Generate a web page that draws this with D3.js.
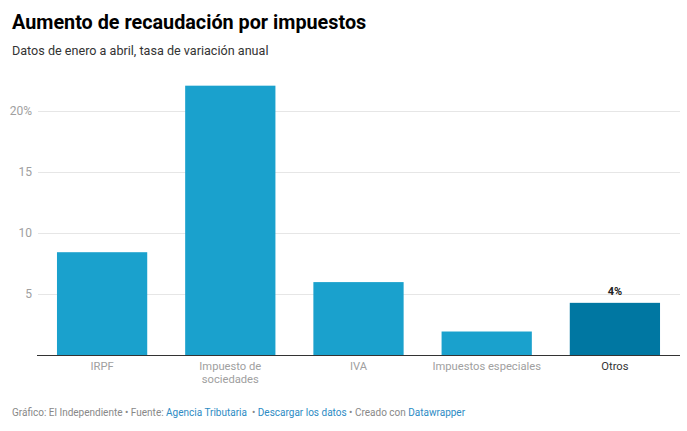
<!DOCTYPE html>
<html><head><meta charset="utf-8">
<script src="https://cdn.jsdelivr.net/npm/d3@7"></script>
<style>
body{margin:0;background:#fff;font-family:Roboto,"Noto Sans",sans-serif;}
svg text{font-family:Roboto,"Noto Sans",sans-serif;}
</style></head>
<body><svg id="c" width="687" height="431"></svg>
<script>
const categories = ["IRPF", "Impuesto de\nsociedades", "IVA", "Impuestos especiales", "Otros"];
const values = [8.45, 22.1, 6.0, 1.95, 4.3];
const highlight = [false, false, false, false, true];
const yTicks = [5, 10, 15, 20];
const yTickLabels = ["5", "10", "15", "20%"];
const valueLabels = ["", "", "", "", "4%"];

const svg = d3.select("#c");
svg.append("rect").attr("width",687).attr("height",431).attr("fill","#fff");

svg.append("text").attr("x",12).attr("y",29).attr("font-size",19.8).attr("font-weight",700)
  .attr("fill","#000").text("Aumento de recaudación por impuestos");
svg.append("text").attr("x",12).attr("y",55).attr("font-size",12.6).attr("fill","#333")
  .text("Datos de enero a abril, tasa de variación anual");

const x = d3.scaleBand().domain(categories).range([38, 679]).paddingInner(0.296).paddingOuter(0.148);
const y = d3.scaleLinear().domain([0, 20]).range([355.3, 111.3]);

const g = svg.append("g");
g.selectAll("line.grid").data(yTicks).join("line")
  .attr("x1",38).attr("x2",680).attr("y1",d=>Math.round(y(d))+0.5).attr("y2",d=>Math.round(y(d))+0.5)
  .attr("stroke","#e6e6e6").attr("stroke-width",1);
g.selectAll("text.yl").data(yTicks).join("text")
  .attr("x",32).attr("y",d=>y(d)+4).attr("text-anchor","end").attr("font-size",12)
  .attr("fill","#a0a0a0").text((d,i)=>yTickLabels[i]);

g.selectAll("rect.bar").data(values).join("rect")
  .attr("x",(d,i)=>x(categories[i])).attr("width",x.bandwidth())
  .attr("y",d=>y(d)).attr("height",d=>y(0)-y(d))
  .attr("fill",(d,i)=>highlight[i] ? "#0077a2" : "#1aa1cd");

g.selectAll("text.vl").data(values).join("text")
  .attr("x",(d,i)=>x(categories[i])+x.bandwidth()/2).attr("y",d=>y(d)-8)
  .attr("text-anchor","middle").attr("font-size",11).attr("font-weight",700).attr("fill","#222")
  .text((d,i)=>valueLabels[i]);

g.append("line").attr("x1",37).attr("x2",680).attr("y1",355.5).attr("y2",355.5)
  .attr("stroke","#333").attr("stroke-width",1);

categories.forEach((c,i)=>{
  const t = g.append("text").attr("x",x(c)+x.bandwidth()/2).attr("y",370)
    .attr("text-anchor","middle").attr("font-size",11.2)
    .attr("fill",highlight[i] ? "#333" : "#a0a0a0");
  c.split("\n").forEach((line,j)=>{
    t.append("tspan").attr("x",x(c)+x.bandwidth()/2).attr("dy", j===0?0:13).text(line);
  });
});

const f = svg.append("text").attr("x",12).attr("y",416).attr("font-size",10).attr("fill","#888");
f.append("tspan").text("Gráfico: El Independiente • Fuente: ");
f.append("tspan").attr("fill","#2d8bc4").text("Agencia Tributaria");
f.append("tspan").attr("xml:space","preserve").text("  • ");
f.append("tspan").attr("fill","#2d8bc4").text("Descargar los datos");
f.append("tspan").text(" • Creado con ");
f.append("tspan").attr("fill","#2d8bc4").text("Datawrapper");
</script></body></html>
